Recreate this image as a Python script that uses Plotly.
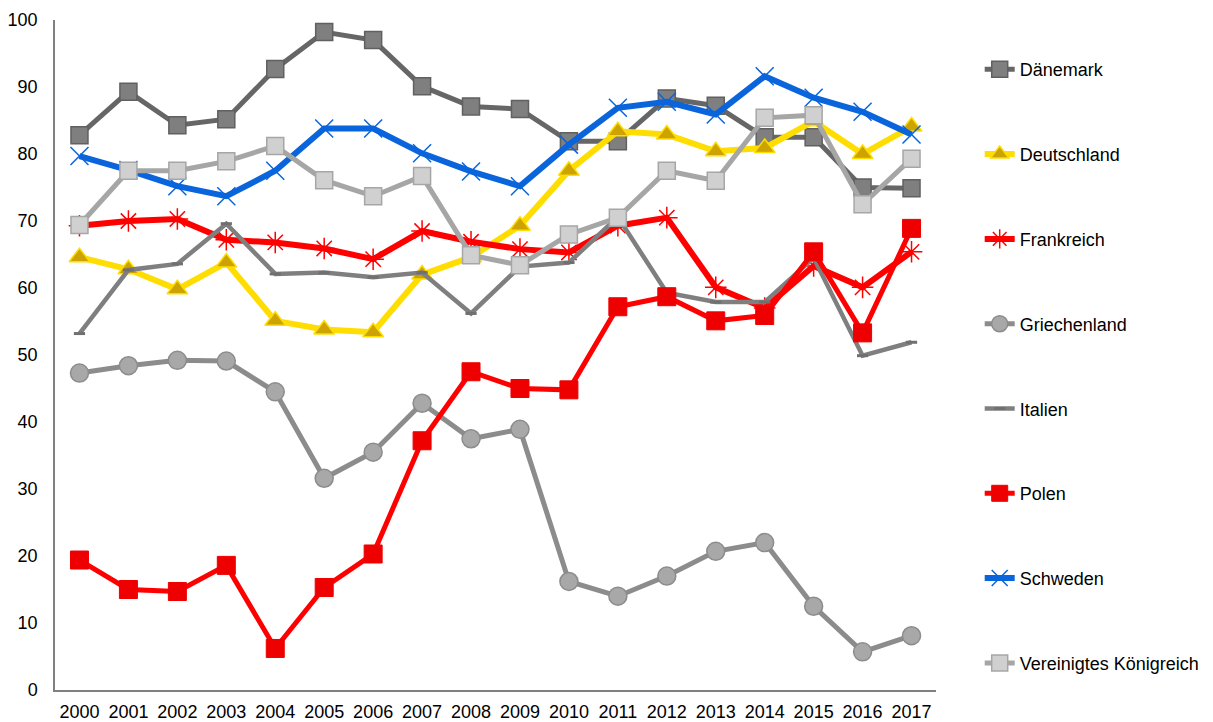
import plotly.graph_objects as go

years = list(range(2000, 2018))

daenemark = [82.8, 89.3, 84.3, 85.2, 92.7, 98.2, 97.0, 90.1, 87.1, 86.7, 81.9, 81.9, 88.3, 87.2, 82.5, 82.5, 75.0, 74.9]
deutschland = [64.6, 62.8, 59.8, 63.8, 55.1, 53.8, 53.4, 62.0, 64.6, 69.3, 77.5, 83.4, 82.9, 80.4, 80.9, 84.9, 80.0, 84.1]
frankreich = [69.3, 70.0, 70.3, 67.2, 66.8, 65.9, 64.3, 68.5, 66.9, 65.8, 65.3, 69.3, 70.5, 60.1, 57.0, 63.3, 60.1, 65.4]
griechenland = [47.3, 48.4, 49.2, 49.1, 44.5, 31.6, 35.5, 42.8, 37.5, 38.9, 16.2, 14.0, 17.0, 20.7, 22.0, 12.5, 5.7, 8.1]
italien = [53.2, 62.7, 63.6, 69.6, 62.1, 62.3, 61.6, 62.3, 56.2, 63.2, 63.8, 70.6, 59.3, 57.9, 57.9, 64.5, 49.9, 51.9]
polen = [19.4, 15.0, 14.7, 18.6, 6.2, 15.3, 20.3, 37.2, 47.5, 45.0, 44.8, 57.2, 58.7, 55.1, 55.9, 65.4, 53.3, 68.9]
schweden = [79.7, 77.6, 75.2, 73.7, 77.5, 83.8, 83.8, 80.1, 77.4, 75.2, 81.4, 86.9, 87.8, 85.9, 91.6, 88.4, 86.3, 82.9]
uk = [69.4, 77.5, 77.5, 78.9, 81.2, 76.1, 73.7, 76.7, 64.9, 63.4, 68.0, 70.5, 77.5, 76.0, 85.4, 85.8, 72.5, 79.3]

series = [
    ("Dänemark", daenemark, dict(color="#666666", width=5),
     dict(symbol="square", size=17, color="#7F7F7F", line=dict(color="#606060", width=1.5))),
    ("Deutschland", deutschland, dict(color="#FFDD00", width=6),
     dict(symbol="triangle-up", size=18, color="#CCA300", line=dict(color="#FFDD00", width=1.5))),
    ("Frankreich", frankreich, dict(color="#FF0000", width=6),
     dict(symbol="asterisk-open", size=18, color="#FF0000", line=dict(color="#FF0000", width=1.5))),
    ("Griechenland", griechenland, dict(color="#8C8C8C", width=5),
     dict(symbol="circle", size=18, color="#A8A8A8", line=dict(color="#8C8C8C", width=1.5))),
    ("Italien", italien, dict(color="#7F7F7F", width=4.5),
     dict(symbol="line-ew", size=8, color="#7F7F7F", line=dict(color="#707070", width=3))),
    ("Polen", polen, dict(color="#FF0000", width=5),
     dict(symbol="square", size=18, color="#EE0000", line=dict(color="#EE0000", width=1))),
    ("Schweden", schweden, dict(color="#0A64DC", width=6),
     dict(symbol="x-thin-open", size=18, color="#0A64DC", line=dict(color="#0A64DC", width=1.5))),
    ("Vereinigtes Königreich", uk, dict(color="#A6A6A6", width=5),
     dict(symbol="square", size=17, color="#D0D0D0", line=dict(color="#A6A6A6", width=1.5))),
]

fig = go.Figure()
for i, (name, vals, line, marker) in enumerate(series):
    fig.add_trace(go.Scatter(
        x=years, y=vals, name=name, mode="lines+markers",
        line=line, marker=marker, legendgroup=f"g{i}",
    ))

# page body has an 8px margin, so the figure is sized/offset to compensate
fig.update_layout(
    width=1205, height=714,
    margin=dict(l=47, r=277, t=12, b=32, autoexpand=False),
    paper_bgcolor="white", plot_bgcolor="white",
    font=dict(family="Liberation Sans, Arial, sans-serif", size=18, color="#000000"),
    showlegend=True,
    legend=dict(
        x=1.0496, xanchor="left", y=0.9536, yanchor="top",
        tracegroupgap=58.4, font=dict(size=18),
        bgcolor="rgba(0,0,0,0)",
    ),
    xaxis=dict(
        range=[1999.5, 2017.5], tickmode="array", tickvals=years,
        ticktext=[str(y) for y in years], showgrid=False, zeroline=False,
        showline=True, linecolor="#808080", linewidth=1.5, ticks="",
        ticklabelstandoff=5, automargin=False,
    ),
    yaxis=dict(
        range=[0, 100], tickmode="array", tickvals=list(range(0, 101, 10)),
        showgrid=False, zeroline=False, showline=True, linecolor="#808080",
        linewidth=1.5, ticks="", ticklabelstandoff=12, automargin=False,
    ),
)

fig.write_html("out.html")
